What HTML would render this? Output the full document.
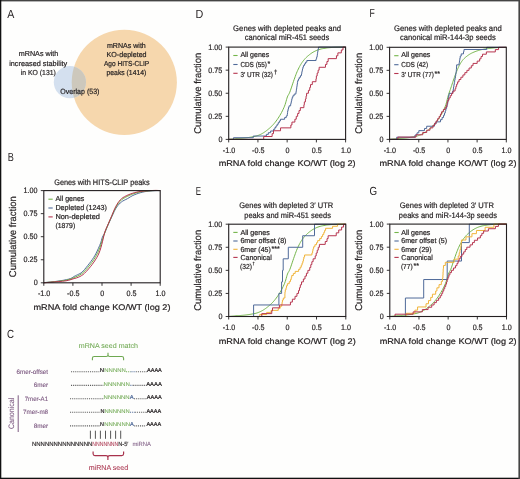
<!DOCTYPE html>
<html><head><meta charset="utf-8"><style>html,body{margin:0;padding:0;width:520px;height:479px;overflow:hidden;background:#fefefd;}</style></head>
<body>
<svg width="520" height="479" viewBox="0 0 520 479" style="position:absolute;left:0;top:0;font-family:'Liberation Sans', sans-serif;will-change:transform">
<style>text{stroke-width:0.2px;paint-order:stroke;text-rendering:geometricPrecision;}</style>
<rect x="0" y="0" width="520" height="479" fill="#fefefd"/>
<text x="7.20" y="17.70" font-size="11.8" fill="#231f20" stroke="#231f20" text-anchor="start" textLength="7.10" lengthAdjust="spacingAndGlyphs" style="stroke-width:0">A</text>
<text x="7.70" y="161.20" font-size="11.8" fill="#231f20" stroke="#231f20" text-anchor="start" textLength="6.10" lengthAdjust="spacingAndGlyphs" style="stroke-width:0">B</text>
<text x="7.00" y="338.20" font-size="11.8" fill="#231f20" stroke="#231f20" text-anchor="start" textLength="7.00" lengthAdjust="spacingAndGlyphs" style="stroke-width:0">C</text>
<text x="195.60" y="17.50" font-size="11.8" fill="#231f20" stroke="#231f20" text-anchor="start" textLength="7.80" lengthAdjust="spacingAndGlyphs" style="stroke-width:0">D</text>
<text x="195.80" y="194.70" font-size="11.8" fill="#231f20" stroke="#231f20" text-anchor="start" textLength="5.30" lengthAdjust="spacingAndGlyphs" style="stroke-width:0">E</text>
<text x="369.40" y="17.30" font-size="11.8" fill="#231f20" stroke="#231f20" text-anchor="start" textLength="5.30" lengthAdjust="spacingAndGlyphs" style="stroke-width:0">F</text>
<text x="369.60" y="194.60" font-size="11.8" fill="#231f20" stroke="#231f20" text-anchor="start" textLength="7.60" lengthAdjust="spacingAndGlyphs" style="stroke-width:0">G</text>
<defs><clipPath id="oc"><circle cx="124.3" cy="82.3" r="52.6"/></clipPath></defs>
<circle cx="124.3" cy="82.3" r="52.6" fill="#f6d7ad"/>
<circle cx="69.9" cy="82.2" r="16.1" fill="#d4e0ef"/>
<circle cx="69.9" cy="82.2" r="16.1" fill="#cdc8bc" clip-path="url(#oc)"/>
<text x="18.80" y="56.20" font-size="7.3" fill="#231f20" stroke="#231f20" text-anchor="start" textLength="39.40" lengthAdjust="spacingAndGlyphs">mRNAs with</text>
<text x="9.20" y="65.60" font-size="7.3" fill="#231f20" stroke="#231f20" text-anchor="start" textLength="58.00" lengthAdjust="spacingAndGlyphs">increased stability</text>
<text x="20.80" y="74.80" font-size="7.3" fill="#231f20" stroke="#231f20" text-anchor="start" textLength="35.00" lengthAdjust="spacingAndGlyphs">in KO (131)</text>
<text x="106.90" y="47.60" font-size="7.3" fill="#231f20" stroke="#231f20" text-anchor="start" textLength="38.90" lengthAdjust="spacingAndGlyphs">mRNAs with</text>
<text x="106.50" y="56.60" font-size="7.3" fill="#231f20" stroke="#231f20" text-anchor="start" textLength="40.10" lengthAdjust="spacingAndGlyphs">KO-depleted</text>
<text x="104.00" y="65.80" font-size="7.3" fill="#231f20" stroke="#231f20" text-anchor="start" textLength="45.20" lengthAdjust="spacingAndGlyphs">Ago HITS-CLIP</text>
<text x="106.50" y="74.80" font-size="7.3" fill="#231f20" stroke="#231f20" text-anchor="start" textLength="39.80" lengthAdjust="spacingAndGlyphs">peaks (1414)</text>
<text x="60.30" y="93.50" font-size="7.6" fill="#231f20" stroke="#231f20" text-anchor="start" textLength="39.10" lengthAdjust="spacingAndGlyphs">Overlap (53)</text>
<text x="54.20" y="185.00" font-size="8.0" fill="#231f20" stroke="#231f20" text-anchor="start" textLength="95.50" lengthAdjust="spacingAndGlyphs">Genes with HITS-CLIP peaks</text>
<path d="M43.80 282.60 L46.63 282.36 L50.64 282.00 L54.50 281.60 L57.79 281.17 L60.93 280.70 L63.80 280.20 L66.40 279.67 L68.74 279.11 L70.70 278.50 L72.12 277.81 L73.17 277.09 L74.20 276.40 L75.34 275.81 L76.46 275.26 L77.60 274.70 L78.76 274.17 L79.94 273.62 L81.10 272.90 L82.19 271.97 L83.27 270.87 L84.50 269.50 L85.97 267.77 L87.59 265.77 L89.20 263.70 L90.79 261.61 L92.36 259.45 L93.80 257.30 L95.02 255.26 L96.10 253.23 L97.20 251.00 L98.43 248.34 L99.66 245.49 L100.70 242.90 L101.37 240.78 L101.85 238.92 L102.40 237.20 L103.11 235.75 L103.89 234.44 L104.80 232.70 L105.88 230.20 L107.09 227.27 L108.30 224.40 L109.49 221.76 L110.70 219.17 L111.90 216.60 L113.10 213.92 L114.30 211.25 L115.50 208.90 L116.70 207.02 L117.90 205.46 L119.10 204.10 L120.26 202.94 L121.42 201.99 L122.70 201.10 L124.18 200.27 L125.79 199.51 L127.40 198.70 L128.95 197.75 L130.51 196.75 L132.20 195.80 L134.11 194.93 L136.16 194.12 L138.20 193.40 L140.17 192.78 L142.13 192.24 L144.10 191.80 L146.10 191.46 L148.10 191.21 L150.10 191.00 L152.14 190.82 L154.16 190.69 L156.00 190.60 L157.68 190.57 L159.17 190.59 L160.20 190.60" fill="none" stroke="#4f6a99" stroke-width="1.0" stroke-linejoin="round"/>
<path d="M43.80 282.70 L45.80 282.52 L47.80 282.34 L49.80 282.17 L51.80 281.99 L53.80 281.81 L55.80 281.59 L57.80 281.35 L59.80 281.10 L61.80 280.85 L63.80 280.61 L65.80 280.27 L67.80 279.77 L69.80 279.25 L71.80 278.54 L73.80 277.65 L75.80 276.82 L77.80 276.01 L79.80 274.98 L81.80 273.74 L83.80 272.00 L85.80 269.85 L87.80 267.59 L89.80 265.10 L91.80 262.49 L93.80 259.67 L95.80 256.30 L97.80 252.46 L99.80 247.96 L101.80 241.64 L103.80 235.74 L105.80 229.91 L107.80 225.17 L109.80 220.56 L111.80 215.99 L113.80 211.39 L115.80 207.23 L117.80 203.91 L119.80 201.53 L121.80 199.52 L123.80 198.26 L125.80 197.09 L127.80 196.15 L129.80 195.23 L131.80 194.30 L133.80 193.63 L135.80 193.02 L137.80 192.40 L139.80 192.00 L141.80 191.65 L143.80 191.29 L145.80 191.09 L147.80 190.92 L149.80 190.75 L151.80 190.65 L153.80 190.56 L155.80 190.47 L157.80 190.52 L159.80 190.59" fill="none" stroke="#74b54a" stroke-width="1.0" stroke-linejoin="round"/>
<path d="M43.80 282.80 L46.54 282.57 L50.47 282.25 L54.50 281.90 L58.47 281.58 L62.55 281.23 L66.10 280.80 L68.81 280.21 L71.00 279.54 L73.00 278.90 L74.87 278.39 L76.56 277.90 L78.20 277.30 L79.84 276.55 L81.43 275.68 L83.00 274.60 L84.54 273.25 L86.07 271.69 L87.60 270.00 L89.17 268.22 L90.74 266.32 L92.30 264.30 L93.86 262.12 L95.40 259.82 L96.80 257.50 L97.99 255.27 L99.03 253.01 L100.00 250.50 L100.93 247.56 L101.79 244.37 L102.60 241.20 L103.31 238.12 L103.99 235.07 L104.80 232.10 L105.87 229.28 L107.08 226.54 L108.30 223.80 L109.51 220.96 L110.74 218.11 L111.90 215.40 L112.94 212.87 L113.92 210.49 L114.90 208.30 L115.88 206.33 L116.86 204.55 L117.90 202.90 L119.01 201.36 L120.20 199.96 L121.50 198.70 L122.94 197.62 L124.50 196.68 L126.20 195.80 L128.10 194.93 L130.15 194.12 L132.20 193.40 L134.20 192.78 L136.21 192.24 L138.20 191.80 L140.17 191.46 L142.13 191.21 L144.10 191.00 L146.10 190.83 L148.10 190.70 L150.10 190.60 L152.14 190.50 L154.16 190.43 L156.00 190.40 L157.68 190.44 L159.17 190.53 L160.20 190.60" fill="none" stroke="#b6354f" stroke-width="1.0" stroke-linejoin="round"/>
<rect x="43.80" y="190.60" width="116.40" height="92.20" fill="none" stroke="#231f20" stroke-width="1.1"/>
<line x1="40.80" y1="282.80" x2="43.80" y2="282.80" stroke="#231f20" stroke-width="0.9"/>
<text x="37.70" y="285.40" font-size="7.9" fill="#231f20" stroke="#231f20" text-anchor="end" textLength="4.00" lengthAdjust="spacingAndGlyphs">0</text>
<line x1="40.80" y1="259.75" x2="43.80" y2="259.75" stroke="#231f20" stroke-width="0.9"/>
<text x="37.40" y="262.35" font-size="7.9" fill="#231f20" stroke="#231f20" text-anchor="end" textLength="13.99" lengthAdjust="spacingAndGlyphs">0.25</text>
<line x1="40.80" y1="236.70" x2="43.80" y2="236.70" stroke="#231f20" stroke-width="0.9"/>
<text x="37.40" y="239.30" font-size="7.9" fill="#231f20" stroke="#231f20" text-anchor="end" textLength="13.99" lengthAdjust="spacingAndGlyphs">0.50</text>
<line x1="40.80" y1="213.65" x2="43.80" y2="213.65" stroke="#231f20" stroke-width="0.9"/>
<text x="37.40" y="216.25" font-size="7.9" fill="#231f20" stroke="#231f20" text-anchor="end" textLength="13.99" lengthAdjust="spacingAndGlyphs">0.75</text>
<line x1="40.80" y1="190.60" x2="43.80" y2="190.60" stroke="#231f20" stroke-width="0.9"/>
<text x="37.40" y="193.20" font-size="7.9" fill="#231f20" stroke="#231f20" text-anchor="end" textLength="13.99" lengthAdjust="spacingAndGlyphs">1.00</text>
<line x1="43.80" y1="282.80" x2="43.80" y2="285.80" stroke="#231f20" stroke-width="0.9"/>
<text x="44.10" y="296.00" font-size="7.9" fill="#231f20" stroke="#231f20" text-anchor="middle" textLength="12.39" lengthAdjust="spacingAndGlyphs">-1.0</text>
<line x1="72.90" y1="282.80" x2="72.90" y2="285.80" stroke="#231f20" stroke-width="0.9"/>
<text x="73.20" y="296.00" font-size="7.9" fill="#231f20" stroke="#231f20" text-anchor="middle" textLength="12.39" lengthAdjust="spacingAndGlyphs">-0.5</text>
<line x1="102.00" y1="282.80" x2="102.00" y2="285.80" stroke="#231f20" stroke-width="0.9"/>
<text x="102.30" y="296.00" font-size="7.9" fill="#231f20" stroke="#231f20" text-anchor="middle" textLength="4.00" lengthAdjust="spacingAndGlyphs">0</text>
<line x1="131.10" y1="282.80" x2="131.10" y2="285.80" stroke="#231f20" stroke-width="0.9"/>
<text x="131.40" y="296.00" font-size="7.9" fill="#231f20" stroke="#231f20" text-anchor="middle" textLength="9.99" lengthAdjust="spacingAndGlyphs">0.5</text>
<line x1="160.20" y1="282.80" x2="160.20" y2="285.80" stroke="#231f20" stroke-width="0.9"/>
<text x="160.50" y="296.00" font-size="7.9" fill="#231f20" stroke="#231f20" text-anchor="middle" textLength="9.99" lengthAdjust="spacingAndGlyphs">1.0</text>
<text x="33.50" y="309.80" font-size="8.2" fill="#231f20" stroke="#231f20" text-anchor="start" textLength="137.00" lengthAdjust="spacingAndGlyphs">mRNA fold change KO/WT (log 2)</text>
<text x="0" y="0" font-size="9.8" fill="#231f20" stroke="#231f20" text-anchor="middle" textLength="81" lengthAdjust="spacingAndGlyphs" transform="translate(15.80,236.70) rotate(-90)">Cumulative fraction</text>
<line x1="48.40" y1="199.20" x2="52.70" y2="199.20" stroke="#74b54a" stroke-width="1.1"/>
<text x="55.40" y="200.80" font-size="7.3" fill="#231f20" stroke="#231f20" text-anchor="start" textLength="29.00" lengthAdjust="spacingAndGlyphs">All genes</text>
<line x1="48.40" y1="208.00" x2="52.70" y2="208.00" stroke="#4f6a99" stroke-width="1.1"/>
<text x="55.40" y="209.90" font-size="7.3" fill="#231f20" stroke="#231f20" text-anchor="start" textLength="51.50" lengthAdjust="spacingAndGlyphs">Depleted (1243)</text>
<line x1="48.40" y1="216.90" x2="52.70" y2="216.90" stroke="#b6354f" stroke-width="1.1"/>
<text x="55.40" y="218.90" font-size="7.3" fill="#231f20" stroke="#231f20" text-anchor="start" textLength="44.50" lengthAdjust="spacingAndGlyphs">Non-depleted</text>
<text x="55.40" y="227.80" font-size="7.3" fill="#231f20" stroke="#231f20" text-anchor="start" textLength="19.80" lengthAdjust="spacingAndGlyphs">(1879)</text>
<text x="233.10" y="30.80" font-size="8.0" fill="#231f20" stroke="#231f20" text-anchor="start" textLength="108.00" lengthAdjust="spacingAndGlyphs">Genes with depleted peaks and</text>
<text x="244.80" y="40.20" font-size="8.0" fill="#231f20" stroke="#231f20" text-anchor="start" textLength="84.40" lengthAdjust="spacingAndGlyphs">canonical miR-451 seeds</text>
<path d="M228.70 139.40 L229.09 139.36 L229.60 139.31 L230.23 139.25 L230.94 139.18 L231.75 139.11 L232.62 139.03 L233.61 138.95 L234.74 138.86 L235.95 138.77 L237.19 138.67 L238.39 138.57 L239.51 138.48 L240.54 138.39 L241.52 138.30 L242.48 138.22 L243.41 138.13 L244.35 138.03 L245.30 137.92 L246.26 137.81 L247.23 137.68 L248.20 137.55 L249.16 137.41 L250.13 137.26 L251.09 137.09 L252.04 136.93 L253.00 136.77 L253.95 136.60 L254.90 136.41 L255.86 136.18 L256.81 135.89 L257.78 135.56 L258.74 135.19 L259.70 134.78 L260.67 134.34 L261.64 133.85 L262.60 133.31 L263.57 132.72 L264.53 132.09 L265.49 131.42 L266.46 130.71 L267.42 129.95 L268.39 129.15 L269.35 128.33 L270.32 127.48 L271.28 126.59 L272.25 125.64 L273.21 124.62 L274.17 123.52 L275.15 122.33 L276.13 121.04 L277.11 119.69 L278.08 118.28 L279.01 116.85 L279.90 115.40 L280.76 113.93 L281.59 112.41 L282.39 110.86 L283.15 109.29 L283.86 107.72 L284.52 106.17 L285.10 104.58 L285.62 102.93 L286.09 101.27 L286.53 99.68 L286.95 98.22 L287.38 96.94 L287.79 95.97 L288.17 95.27 L288.53 94.69 L288.90 94.09 L289.31 93.32 L289.78 92.23 L290.33 90.76 L290.93 89.01 L291.58 87.09 L292.24 85.11 L292.89 83.16 L293.52 81.34 L294.12 79.64 L294.72 77.97 L295.30 76.32 L295.89 74.73 L296.48 73.20 L297.09 71.74 L297.70 70.36 L298.33 69.03 L298.96 67.76 L299.59 66.55 L300.21 65.42 L300.83 64.36 L301.43 63.39 L302.03 62.50 L302.62 61.68 L303.21 60.91 L303.80 60.18 L304.39 59.47 L304.98 58.79 L305.55 58.17 L306.12 57.59 L306.71 57.02 L307.34 56.45 L308.02 55.87 L308.75 55.26 L309.52 54.63 L310.33 54.01 L311.16 53.40 L312.03 52.82 L312.93 52.27 L313.84 51.76 L314.79 51.27 L315.76 50.80 L316.76 50.37 L317.80 49.96 L318.89 49.59 L320.03 49.26 L321.22 48.95 L322.46 48.68 L323.71 48.44 L324.96 48.22 L326.19 48.02 L327.43 47.86 L328.68 47.72 L329.93 47.61 L331.16 47.52 L332.36 47.45 L333.50 47.38 L334.58 47.32 L335.60 47.28 L336.59 47.25 L337.56 47.23 L338.53 47.21 L339.52 47.19 L340.60 47.17 L341.77 47.15 L342.94 47.13 L344.02 47.12 L344.94 47.11 L345.60 47.10" fill="none" stroke="#74b54a" stroke-width="1.0" stroke-linejoin="round"/>
<path d="M228.70 139.40 L233.47 139.40 L233.47 137.72 L253.26 137.72 L253.26 136.04 L266.35 136.04 L266.35 134.37 L268.35 134.37 L268.35 132.69 L270.62 132.69 L270.62 131.01 L273.47 131.01 L273.47 129.33 L274.83 129.33 L274.83 127.65 L275.98 127.65 L275.98 125.97 L277.12 125.97 L277.12 124.30 L278.26 124.30 L278.26 122.62 L279.37 122.62 L279.37 120.94 L280.47 120.94 L280.47 119.26 L284.61 119.26 L284.61 117.58 L286.26 117.58 L286.26 115.91 L287.24 115.91 L287.24 114.23 L287.46 114.23 L287.46 112.55 L287.67 112.55 L287.67 110.87 L288.05 110.87 L288.05 109.19 L288.45 109.19 L288.45 107.51 L289.04 107.51 L289.04 105.84 L290.64 105.84 L290.64 104.16 L290.99 104.16 L290.99 102.48 L291.36 102.48 L291.36 100.80 L291.76 100.80 L291.76 99.12 L292.16 99.12 L292.16 97.45 L292.87 97.45 L292.87 95.77 L294.14 95.77 L294.14 94.09 L295.88 94.09 L295.88 92.41 L296.17 92.41 L296.17 90.73 L296.43 90.73 L296.43 89.05 L296.68 89.05 L296.68 87.38 L296.93 87.38 L296.93 85.70 L297.18 85.70 L297.18 84.02 L297.42 84.02 L297.42 82.34 L297.67 82.34 L297.67 80.66 L298.44 80.66 L298.44 78.99 L299.28 78.99 L299.28 77.31 L300.48 77.31 L300.48 75.63 L301.48 75.63 L301.48 73.95 L301.76 73.95 L301.76 72.27 L302.07 72.27 L302.07 70.59 L302.48 70.59 L302.48 68.92 L302.89 68.92 L302.89 67.24 L303.44 67.24 L303.44 65.56 L304.45 65.56 L304.45 63.88 L305.57 63.88 L305.57 62.20 L306.83 62.20 L306.83 60.53 L316.04 60.53 L316.04 58.85 L316.60 58.85 L316.60 57.17 L317.12 57.17 L317.12 55.49 L317.36 55.49 L317.36 53.81 L317.60 53.81 L317.60 52.13 L317.86 52.13 L317.86 50.46 L318.14 50.46 L318.14 48.78 L318.48 48.78 L318.48 47.10 L345.60 47.10" fill="none" stroke="#4f6a99" stroke-width="1.0" stroke-linejoin="round"/>
<path d="M228.70 139.40 L263.71 139.40 L263.71 136.52 L272.14 136.52 L272.14 133.63 L273.50 133.63 L273.50 130.75 L280.54 130.75 L280.54 127.86 L290.86 127.86 L290.86 124.98 L291.94 124.98 L291.94 122.09 L294.88 122.09 L294.88 119.21 L296.25 119.21 L296.25 116.33 L297.65 116.33 L297.65 113.44 L299.00 113.44 L299.00 110.56 L300.33 110.56 L300.33 107.67 L303.90 107.67 L303.90 104.79 L304.33 104.79 L304.33 101.90 L305.41 101.90 L305.41 99.02 L306.05 99.02 L306.05 96.13 L306.58 96.13 L306.58 93.25 L308.42 93.25 L308.42 90.37 L309.72 90.37 L309.72 87.48 L310.49 87.48 L310.49 84.60 L312.32 84.60 L312.32 81.71 L315.96 81.71 L315.96 78.83 L316.37 78.83 L316.37 75.94 L317.17 75.94 L317.17 73.06 L318.12 73.06 L318.12 70.17 L319.13 70.17 L319.13 67.29 L325.48 67.29 L325.48 64.41 L326.92 64.41 L326.92 61.52 L328.17 61.52 L328.17 58.64 L336.45 58.64 L336.45 55.75 L337.89 55.75 L337.89 52.87 L341.33 52.87 L341.33 49.98 L342.99 49.98 L342.99 47.10 L345.60 47.10" fill="none" stroke="#b6354f" stroke-width="1.0" stroke-linejoin="round"/>
<rect x="228.70" y="47.10" width="116.90" height="92.30" fill="none" stroke="#231f20" stroke-width="1.1"/>
<line x1="225.70" y1="139.40" x2="228.70" y2="139.40" stroke="#231f20" stroke-width="0.9"/>
<text x="222.60" y="142.00" font-size="7.9" fill="#231f20" stroke="#231f20" text-anchor="end" textLength="4.00" lengthAdjust="spacingAndGlyphs">0</text>
<line x1="225.70" y1="116.33" x2="228.70" y2="116.33" stroke="#231f20" stroke-width="0.9"/>
<text x="222.30" y="118.92" font-size="7.9" fill="#231f20" stroke="#231f20" text-anchor="end" textLength="13.99" lengthAdjust="spacingAndGlyphs">0.25</text>
<line x1="225.70" y1="93.25" x2="228.70" y2="93.25" stroke="#231f20" stroke-width="0.9"/>
<text x="222.30" y="95.85" font-size="7.9" fill="#231f20" stroke="#231f20" text-anchor="end" textLength="13.99" lengthAdjust="spacingAndGlyphs">0.50</text>
<line x1="225.70" y1="70.17" x2="228.70" y2="70.17" stroke="#231f20" stroke-width="0.9"/>
<text x="222.30" y="72.77" font-size="7.9" fill="#231f20" stroke="#231f20" text-anchor="end" textLength="13.99" lengthAdjust="spacingAndGlyphs">0.75</text>
<line x1="225.70" y1="47.10" x2="228.70" y2="47.10" stroke="#231f20" stroke-width="0.9"/>
<text x="222.30" y="49.70" font-size="7.9" fill="#231f20" stroke="#231f20" text-anchor="end" textLength="13.99" lengthAdjust="spacingAndGlyphs">1.00</text>
<line x1="228.70" y1="139.40" x2="228.70" y2="142.40" stroke="#231f20" stroke-width="0.9"/>
<text x="229.00" y="152.60" font-size="7.9" fill="#231f20" stroke="#231f20" text-anchor="middle" textLength="12.39" lengthAdjust="spacingAndGlyphs">-1.0</text>
<line x1="257.93" y1="139.40" x2="257.93" y2="142.40" stroke="#231f20" stroke-width="0.9"/>
<text x="258.23" y="152.60" font-size="7.9" fill="#231f20" stroke="#231f20" text-anchor="middle" textLength="12.39" lengthAdjust="spacingAndGlyphs">-0.5</text>
<line x1="287.15" y1="139.40" x2="287.15" y2="142.40" stroke="#231f20" stroke-width="0.9"/>
<text x="287.45" y="152.60" font-size="7.9" fill="#231f20" stroke="#231f20" text-anchor="middle" textLength="4.00" lengthAdjust="spacingAndGlyphs">0</text>
<line x1="316.38" y1="139.40" x2="316.38" y2="142.40" stroke="#231f20" stroke-width="0.9"/>
<text x="316.68" y="152.60" font-size="7.9" fill="#231f20" stroke="#231f20" text-anchor="middle" textLength="9.99" lengthAdjust="spacingAndGlyphs">0.5</text>
<line x1="345.60" y1="139.40" x2="345.60" y2="142.40" stroke="#231f20" stroke-width="0.9"/>
<text x="345.90" y="152.60" font-size="7.9" fill="#231f20" stroke="#231f20" text-anchor="middle" textLength="9.99" lengthAdjust="spacingAndGlyphs">1.0</text>
<text x="218.65" y="166.40" font-size="8.2" fill="#231f20" stroke="#231f20" text-anchor="start" textLength="137.00" lengthAdjust="spacingAndGlyphs">mRNA fold change KO/WT (log 2)</text>
<text x="0" y="0" font-size="9.8" fill="#231f20" stroke="#231f20" text-anchor="middle" textLength="81" lengthAdjust="spacingAndGlyphs" transform="translate(200.70,93.25) rotate(-90)">Cumulative fraction</text>
<line x1="233.30" y1="55.50" x2="237.60" y2="55.50" stroke="#74b54a" stroke-width="1.1"/>
<text x="240.40" y="57.40" font-size="7.3" fill="#231f20" stroke="#231f20" text-anchor="start" textLength="28.80" lengthAdjust="spacingAndGlyphs">All genes</text>
<line x1="233.30" y1="64.50" x2="237.60" y2="64.50" stroke="#4f6a99" stroke-width="1.1"/>
<text x="240.40" y="66.60" font-size="7.3" fill="#231f20" stroke="#231f20" text-anchor="start" textLength="26.60" lengthAdjust="spacingAndGlyphs">CDS (55)</text>
<text x="267.50" y="66.30" font-size="7" fill="#231f20" stroke="#231f20" text-anchor="start">*</text>
<line x1="233.30" y1="73.30" x2="237.60" y2="73.30" stroke="#b6354f" stroke-width="1.1"/>
<text x="240.40" y="76.50" font-size="7.3" fill="#231f20" stroke="#231f20" text-anchor="start" textLength="32.60" lengthAdjust="spacingAndGlyphs">3′ UTR (32)</text>
<text x="273.90" y="74.10" font-size="6" fill="#231f20" stroke="#231f20" text-anchor="start">†</text>
<text x="394.00" y="30.80" font-size="8.0" fill="#231f20" stroke="#231f20" text-anchor="start" textLength="107.70" lengthAdjust="spacingAndGlyphs">Genes with depleted peaks and</text>
<text x="400.00" y="40.20" font-size="8.0" fill="#231f20" stroke="#231f20" text-anchor="start" textLength="95.80" lengthAdjust="spacingAndGlyphs">canonical miR-144-3p seeds</text>
<path d="M389.60 139.40 L389.99 139.36 L390.50 139.31 L391.12 139.25 L391.84 139.18 L392.64 139.11 L393.51 139.03 L394.50 138.95 L395.63 138.86 L396.84 138.77 L398.07 138.67 L399.28 138.57 L400.39 138.48 L401.42 138.39 L402.40 138.31 L403.35 138.22 L404.29 138.13 L405.22 138.03 L406.17 137.93 L407.13 137.81 L408.10 137.68 L409.06 137.55 L410.03 137.41 L410.99 137.26 L411.95 137.10 L412.90 136.94 L413.86 136.78 L414.81 136.61 L415.76 136.42 L416.71 136.18 L417.67 135.90 L418.63 135.57 L419.59 135.20 L420.55 134.80 L421.52 134.35 L422.48 133.86 L423.44 133.32 L424.41 132.74 L425.37 132.11 L426.33 131.44 L427.29 130.73 L428.26 129.97 L429.22 129.18 L430.18 128.35 L431.15 127.51 L432.11 126.62 L433.08 125.67 L434.04 124.66 L435.00 123.56 L435.97 122.36 L436.95 121.08 L437.93 119.73 L438.89 118.33 L439.83 116.90 L440.71 115.45 L441.57 113.99 L442.40 112.50 L443.20 110.98 L443.96 109.42 L444.67 107.85 L445.32 106.24 L445.89 104.58 L446.39 102.86 L446.83 101.10 L447.25 99.37 L447.66 97.69 L448.10 96.11 L448.56 94.66 L449.01 93.29 L449.46 91.98 L449.91 90.70 L450.36 89.42 L450.81 88.10 L451.26 86.75 L451.71 85.38 L452.15 84.01 L452.60 82.65 L453.05 81.30 L453.49 80.00 L453.94 78.71 L454.39 77.44 L454.84 76.19 L455.29 74.97 L455.73 73.78 L456.18 72.63 L456.62 71.51 L457.05 70.43 L457.49 69.38 L457.93 68.36 L458.36 67.39 L458.80 66.46 L459.25 65.57 L459.69 64.73 L460.14 63.92 L460.59 63.16 L461.04 62.44 L461.49 61.76 L461.92 61.14 L462.33 60.58 L462.74 60.07 L463.17 59.57 L463.64 59.07 L464.17 58.54 L464.78 57.97 L465.45 57.37 L466.16 56.77 L466.89 56.19 L467.62 55.63 L468.31 55.13 L468.97 54.68 L469.60 54.27 L470.22 53.90 L470.86 53.54 L471.54 53.19 L472.28 52.83 L473.10 52.45 L473.98 52.08 L474.91 51.71 L475.85 51.35 L476.79 51.02 L477.71 50.71 L478.59 50.43 L479.45 50.18 L480.31 49.94 L481.19 49.73 L482.11 49.52 L483.08 49.33 L484.12 49.14 L485.21 48.98 L486.35 48.83 L487.50 48.68 L488.65 48.54 L489.79 48.41 L490.87 48.27 L491.91 48.13 L492.95 48.00 L494.03 47.88 L495.20 47.77 L496.50 47.67 L498.07 47.58 L499.90 47.50 L501.82 47.44 L503.64 47.38 L505.20 47.34 L506.30 47.30" fill="none" stroke="#74b54a" stroke-width="1.0" stroke-linejoin="round"/>
<path d="M389.60 139.40 L396.67 139.40 L396.67 137.21 L414.99 137.21 L414.99 135.01 L417.01 135.01 L417.01 132.82 L418.83 132.82 L418.83 130.63 L424.47 130.63 L424.47 128.44 L426.66 128.44 L426.66 126.24 L434.38 126.24 L434.38 124.05 L435.99 124.05 L435.99 121.86 L440.49 121.86 L440.49 119.66 L442.12 119.66 L442.12 117.47 L443.53 117.47 L443.53 115.28 L444.51 115.28 L444.51 113.09 L445.24 113.09 L445.24 110.89 L445.84 110.89 L445.84 108.70 L446.60 108.70 L446.60 106.51 L447.15 106.51 L447.15 104.31 L447.68 104.31 L447.68 102.12 L448.02 102.12 L448.02 99.93 L448.30 99.93 L448.30 97.74 L448.64 97.74 L448.64 95.54 L449.11 95.54 L449.11 93.35 L452.55 93.35 L452.55 91.16 L453.27 91.16 L453.27 88.96 L453.56 88.96 L453.56 86.77 L453.90 86.77 L453.90 84.58 L454.30 84.58 L454.30 82.39 L454.65 82.39 L454.65 80.19 L454.99 80.19 L454.99 78.00 L455.38 78.00 L455.38 75.81 L455.76 75.81 L455.76 73.61 L456.10 73.61 L456.10 71.42 L456.35 71.42 L456.35 69.23 L456.49 69.23 L456.49 67.04 L456.62 67.04 L456.62 64.84 L459.11 64.84 L459.11 62.65 L459.46 62.65 L459.46 60.46 L459.84 60.46 L459.84 58.26 L460.23 58.26 L460.23 56.07 L461.21 56.07 L461.21 53.88 L463.50 53.88 L463.50 51.69 L463.98 51.69 L463.98 49.49 L486.70 49.49 L486.70 47.30 L506.30 47.30" fill="none" stroke="#4f6a99" stroke-width="1.0" stroke-linejoin="round"/>
<path d="M389.60 139.40 L397.83 139.40 L397.83 137.10 L416.01 137.10 L416.01 134.80 L422.73 134.80 L422.73 132.49 L426.71 132.49 L426.71 130.19 L429.99 130.19 L429.99 127.89 L432.92 127.89 L432.92 125.59 L434.54 125.59 L434.54 123.28 L436.10 123.28 L436.10 120.98 L437.61 120.98 L437.61 118.68 L439.13 118.68 L439.13 116.38 L440.44 116.38 L440.44 114.07 L441.59 114.07 L441.59 111.77 L443.38 111.77 L443.38 109.47 L445.27 109.47 L445.27 107.17 L446.73 107.17 L446.73 104.86 L447.04 104.86 L447.04 102.56 L447.76 102.56 L447.76 100.26 L448.94 100.26 L448.94 97.95 L450.23 97.95 L450.23 95.65 L451.60 95.65 L451.60 93.35 L453.04 93.35 L453.04 91.05 L455.07 91.05 L455.07 88.75 L455.85 88.75 L455.85 86.44 L456.63 86.44 L456.63 84.14 L457.61 84.14 L457.61 81.84 L459.00 81.84 L459.00 79.53 L460.89 79.53 L460.89 77.23 L462.91 77.23 L462.91 74.93 L464.85 74.93 L464.85 72.63 L466.92 72.63 L466.92 70.32 L469.06 70.32 L469.06 68.02 L471.29 68.02 L471.29 65.72 L473.02 65.72 L473.02 63.42 L477.18 63.42 L477.18 61.12 L479.65 61.12 L479.65 58.81 L481.04 58.81 L481.04 56.51 L482.48 56.51 L482.48 54.21 L486.37 54.21 L486.37 51.91 L495.32 51.91 L495.32 49.60 L498.56 49.60 L498.56 47.30 L506.30 47.30" fill="none" stroke="#b6354f" stroke-width="1.0" stroke-linejoin="round"/>
<rect x="389.60" y="47.30" width="116.70" height="92.10" fill="none" stroke="#231f20" stroke-width="1.1"/>
<line x1="386.60" y1="139.40" x2="389.60" y2="139.40" stroke="#231f20" stroke-width="0.9"/>
<text x="383.50" y="142.00" font-size="7.9" fill="#231f20" stroke="#231f20" text-anchor="end" textLength="4.00" lengthAdjust="spacingAndGlyphs">0</text>
<line x1="386.60" y1="116.38" x2="389.60" y2="116.38" stroke="#231f20" stroke-width="0.9"/>
<text x="383.20" y="118.97" font-size="7.9" fill="#231f20" stroke="#231f20" text-anchor="end" textLength="13.99" lengthAdjust="spacingAndGlyphs">0.25</text>
<line x1="386.60" y1="93.35" x2="389.60" y2="93.35" stroke="#231f20" stroke-width="0.9"/>
<text x="383.20" y="95.95" font-size="7.9" fill="#231f20" stroke="#231f20" text-anchor="end" textLength="13.99" lengthAdjust="spacingAndGlyphs">0.50</text>
<line x1="386.60" y1="70.33" x2="389.60" y2="70.33" stroke="#231f20" stroke-width="0.9"/>
<text x="383.20" y="72.92" font-size="7.9" fill="#231f20" stroke="#231f20" text-anchor="end" textLength="13.99" lengthAdjust="spacingAndGlyphs">0.75</text>
<line x1="386.60" y1="47.30" x2="389.60" y2="47.30" stroke="#231f20" stroke-width="0.9"/>
<text x="383.20" y="49.90" font-size="7.9" fill="#231f20" stroke="#231f20" text-anchor="end" textLength="13.99" lengthAdjust="spacingAndGlyphs">1.00</text>
<line x1="389.60" y1="139.40" x2="389.60" y2="142.40" stroke="#231f20" stroke-width="0.9"/>
<text x="389.90" y="152.60" font-size="7.9" fill="#231f20" stroke="#231f20" text-anchor="middle" textLength="12.39" lengthAdjust="spacingAndGlyphs">-1.0</text>
<line x1="418.78" y1="139.40" x2="418.78" y2="142.40" stroke="#231f20" stroke-width="0.9"/>
<text x="419.08" y="152.60" font-size="7.9" fill="#231f20" stroke="#231f20" text-anchor="middle" textLength="12.39" lengthAdjust="spacingAndGlyphs">-0.5</text>
<line x1="447.95" y1="139.40" x2="447.95" y2="142.40" stroke="#231f20" stroke-width="0.9"/>
<text x="448.25" y="152.60" font-size="7.9" fill="#231f20" stroke="#231f20" text-anchor="middle" textLength="4.00" lengthAdjust="spacingAndGlyphs">0</text>
<line x1="477.12" y1="139.40" x2="477.12" y2="142.40" stroke="#231f20" stroke-width="0.9"/>
<text x="477.43" y="152.60" font-size="7.9" fill="#231f20" stroke="#231f20" text-anchor="middle" textLength="9.99" lengthAdjust="spacingAndGlyphs">0.5</text>
<line x1="506.30" y1="139.40" x2="506.30" y2="142.40" stroke="#231f20" stroke-width="0.9"/>
<text x="506.60" y="152.60" font-size="7.9" fill="#231f20" stroke="#231f20" text-anchor="middle" textLength="9.99" lengthAdjust="spacingAndGlyphs">1.0</text>
<text x="379.45" y="166.40" font-size="8.2" fill="#231f20" stroke="#231f20" text-anchor="start" textLength="137.00" lengthAdjust="spacingAndGlyphs">mRNA fold change KO/WT (log 2)</text>
<text x="0" y="0" font-size="9.8" fill="#231f20" stroke="#231f20" text-anchor="middle" textLength="81" lengthAdjust="spacingAndGlyphs" transform="translate(361.60,93.35) rotate(-90)">Cumulative fraction</text>
<line x1="394.20" y1="55.70" x2="398.50" y2="55.70" stroke="#74b54a" stroke-width="1.1"/>
<text x="401.30" y="57.40" font-size="7.3" fill="#231f20" stroke="#231f20" text-anchor="start" textLength="29.10" lengthAdjust="spacingAndGlyphs">All genes</text>
<line x1="394.20" y1="64.70" x2="398.50" y2="64.70" stroke="#4f6a99" stroke-width="1.1"/>
<text x="401.30" y="66.60" font-size="7.3" fill="#231f20" stroke="#231f20" text-anchor="start" textLength="26.80" lengthAdjust="spacingAndGlyphs">CDS (42)</text>
<line x1="394.20" y1="73.50" x2="398.50" y2="73.50" stroke="#b6354f" stroke-width="1.1"/>
<text x="401.30" y="76.60" font-size="7.3" fill="#231f20" stroke="#231f20" text-anchor="start" textLength="32.50" lengthAdjust="spacingAndGlyphs">3′ UTR (77)</text>
<text x="434.60" y="76.20" font-size="7" fill="#231f20" stroke="#231f20" text-anchor="start">**</text>
<text x="239.20" y="208.00" font-size="8.0" fill="#231f20" stroke="#231f20" text-anchor="start" textLength="94.00" lengthAdjust="spacingAndGlyphs">Genes with depleted 3′ UTR</text>
<text x="244.30" y="217.60" font-size="8.0" fill="#231f20" stroke="#231f20" text-anchor="start" textLength="86.60" lengthAdjust="spacingAndGlyphs">peaks and miR-451 seeds</text>
<path d="M228.70 316.50 L229.09 316.46 L229.61 316.41 L230.23 316.35 L230.95 316.28 L231.75 316.21 L232.62 316.13 L233.61 316.05 L234.75 315.96 L235.96 315.87 L237.20 315.77 L238.41 315.67 L239.53 315.58 L240.56 315.49 L241.55 315.40 L242.50 315.32 L243.44 315.23 L244.38 315.13 L245.33 315.02 L246.29 314.91 L247.26 314.78 L248.23 314.65 L249.20 314.51 L250.16 314.36 L251.12 314.19 L252.08 314.03 L253.04 313.87 L253.99 313.70 L254.95 313.51 L255.90 313.28 L256.86 312.99 L257.83 312.66 L258.79 312.29 L259.76 311.88 L260.72 311.44 L261.69 310.95 L262.66 310.41 L263.63 309.82 L264.59 309.19 L265.56 308.52 L266.52 307.81 L267.49 307.05 L268.46 306.25 L269.42 305.43 L270.39 304.58 L271.36 303.69 L272.32 302.74 L273.29 301.72 L274.25 300.62 L275.22 299.43 L276.21 298.14 L277.19 296.79 L278.16 295.38 L279.10 293.95 L279.99 292.50 L280.85 291.03 L281.68 289.51 L282.48 287.96 L283.24 286.39 L283.96 284.82 L284.62 283.27 L285.20 281.68 L285.72 280.03 L286.19 278.37 L286.63 276.78 L287.05 275.32 L287.48 274.04 L287.90 273.07 L288.27 272.37 L288.63 271.79 L289.00 271.19 L289.41 270.42 L289.88 269.33 L290.43 267.86 L291.04 266.11 L291.69 264.19 L292.35 262.21 L293.00 260.26 L293.63 258.44 L294.24 256.74 L294.83 255.07 L295.42 253.42 L296.01 251.83 L296.60 250.30 L297.20 248.84 L297.82 247.46 L298.45 246.13 L299.08 244.86 L299.71 243.65 L300.33 242.52 L300.95 241.46 L301.56 240.49 L302.15 239.60 L302.74 238.78 L303.33 238.01 L303.93 237.28 L304.52 236.57 L305.11 235.89 L305.68 235.27 L306.25 234.69 L306.84 234.12 L307.47 233.55 L308.15 232.97 L308.89 232.36 L309.66 231.73 L310.47 231.11 L311.31 230.50 L312.17 229.92 L313.07 229.37 L313.99 228.86 L314.93 228.37 L315.91 227.90 L316.91 227.47 L317.96 227.06 L319.04 226.69 L320.18 226.36 L321.38 226.05 L322.62 225.78 L323.87 225.54 L325.13 225.32 L326.36 225.12 L327.60 224.96 L328.85 224.82 L330.10 224.71 L331.34 224.62 L332.53 224.55 L333.68 224.48 L334.76 224.42 L335.78 224.38 L336.77 224.35 L337.74 224.33 L338.72 224.31 L339.71 224.29 L340.79 224.27 L341.96 224.25 L343.13 224.23 L344.22 224.22 L345.14 224.21 L345.80 224.20" fill="none" stroke="#74b54a" stroke-width="1.0" stroke-linejoin="round"/>
<path d="M228.70 316.50 L253.60 316.50 L253.60 304.96 L278.90 304.96 L278.90 293.43 L281.60 293.43 L281.60 281.89 L282.50 281.89 L282.50 270.35 L283.20 270.35 L283.20 258.81 L288.30 258.81 L288.30 247.27 L302.70 247.27 L302.70 235.74 L314.50 235.74 L314.50 224.20 L345.80 224.20" fill="none" stroke="#4f6a99" stroke-width="1.0" stroke-linejoin="round"/>
<path d="M228.70 316.50 L259.77 316.50 L259.77 314.45 L266.67 314.45 L266.67 312.40 L271.08 312.40 L271.08 310.35 L278.28 310.35 L278.28 308.30 L280.18 308.30 L280.18 306.24 L281.78 306.24 L281.78 304.19 L282.10 304.19 L282.10 302.14 L282.42 302.14 L282.42 300.09 L283.31 300.09 L283.31 298.04 L284.90 298.04 L284.90 295.99 L284.90 295.99 L284.90 293.94 L284.98 293.94 L284.98 291.89 L285.28 291.89 L285.28 289.84 L286.03 289.84 L286.03 287.78 L286.53 287.78 L286.53 285.73 L287.38 285.73 L287.38 283.68 L289.24 283.68 L289.24 281.63 L290.48 281.63 L290.48 279.58 L291.24 279.58 L291.24 277.53 L291.72 277.53 L291.72 275.48 L293.34 275.48 L293.34 273.43 L295.20 273.43 L295.20 271.38 L298.64 271.38 L298.64 269.32 L300.09 269.32 L300.09 267.27 L301.24 267.27 L301.24 265.22 L302.07 265.22 L302.07 263.17 L302.83 263.17 L302.83 261.12 L303.40 261.12 L303.40 259.07 L303.87 259.07 L303.87 257.02 L304.58 257.02 L304.58 254.97 L311.93 254.97 L311.93 252.92 L312.63 252.92 L312.63 250.86 L312.98 250.86 L312.98 248.81 L313.60 248.81 L313.60 246.76 L314.89 246.76 L314.89 244.71 L316.54 244.71 L316.54 242.66 L317.67 242.66 L317.67 240.61 L319.72 240.61 L319.72 238.56 L321.39 238.56 L321.39 236.51 L322.65 236.51 L322.65 234.46 L323.79 234.46 L323.79 232.40 L324.64 232.40 L324.64 230.35 L325.60 230.35 L325.60 228.30 L332.62 228.30 L332.62 226.25 L337.57 226.25 L337.57 224.20 L345.80 224.20" fill="none" stroke="#f0b43a" stroke-width="1.0" stroke-linejoin="round"/>
<path d="M228.70 316.50 L261.77 316.50 L261.77 313.62 L271.76 313.62 L271.76 310.73 L272.50 310.73 L272.50 307.85 L279.40 307.85 L279.40 304.96 L290.43 304.96 L290.43 302.08 L292.36 302.08 L292.36 299.19 L295.03 299.19 L295.03 296.31 L296.94 296.31 L296.94 293.43 L298.54 293.43 L298.54 290.54 L299.47 290.54 L299.47 287.66 L300.34 287.66 L300.34 284.77 L301.54 284.77 L301.54 281.89 L303.37 281.89 L303.37 279.00 L304.99 279.00 L304.99 276.12 L306.43 276.12 L306.43 273.23 L307.88 273.23 L307.88 270.35 L309.74 270.35 L309.74 267.47 L310.81 267.47 L310.81 264.58 L311.85 264.58 L311.85 261.70 L313.14 261.70 L313.14 258.81 L315.19 258.81 L315.19 255.93 L316.19 255.93 L316.19 253.04 L317.23 253.04 L317.23 250.16 L318.24 250.16 L318.24 247.27 L319.40 247.27 L319.40 244.39 L325.24 244.39 L325.24 241.51 L327.02 241.51 L327.02 238.62 L328.12 238.62 L328.12 235.74 L336.24 235.74 L336.24 232.85 L338.73 232.85 L338.73 229.97 L341.62 229.97 L341.62 227.08 L343.56 227.08 L343.56 224.20 L345.80 224.20" fill="none" stroke="#b6354f" stroke-width="1.0" stroke-linejoin="round"/>
<rect x="228.70" y="224.20" width="117.10" height="92.30" fill="none" stroke="#231f20" stroke-width="1.1"/>
<line x1="225.70" y1="316.50" x2="228.70" y2="316.50" stroke="#231f20" stroke-width="0.9"/>
<text x="222.60" y="319.10" font-size="7.9" fill="#231f20" stroke="#231f20" text-anchor="end" textLength="4.00" lengthAdjust="spacingAndGlyphs">0</text>
<line x1="225.70" y1="293.43" x2="228.70" y2="293.43" stroke="#231f20" stroke-width="0.9"/>
<text x="222.30" y="296.03" font-size="7.9" fill="#231f20" stroke="#231f20" text-anchor="end" textLength="13.99" lengthAdjust="spacingAndGlyphs">0.25</text>
<line x1="225.70" y1="270.35" x2="228.70" y2="270.35" stroke="#231f20" stroke-width="0.9"/>
<text x="222.30" y="272.95" font-size="7.9" fill="#231f20" stroke="#231f20" text-anchor="end" textLength="13.99" lengthAdjust="spacingAndGlyphs">0.50</text>
<line x1="225.70" y1="247.27" x2="228.70" y2="247.27" stroke="#231f20" stroke-width="0.9"/>
<text x="222.30" y="249.87" font-size="7.9" fill="#231f20" stroke="#231f20" text-anchor="end" textLength="13.99" lengthAdjust="spacingAndGlyphs">0.75</text>
<line x1="225.70" y1="224.20" x2="228.70" y2="224.20" stroke="#231f20" stroke-width="0.9"/>
<text x="222.30" y="226.80" font-size="7.9" fill="#231f20" stroke="#231f20" text-anchor="end" textLength="13.99" lengthAdjust="spacingAndGlyphs">1.00</text>
<line x1="228.70" y1="316.50" x2="228.70" y2="319.50" stroke="#231f20" stroke-width="0.9"/>
<text x="229.00" y="329.70" font-size="7.9" fill="#231f20" stroke="#231f20" text-anchor="middle" textLength="12.39" lengthAdjust="spacingAndGlyphs">-1.0</text>
<line x1="257.98" y1="316.50" x2="257.98" y2="319.50" stroke="#231f20" stroke-width="0.9"/>
<text x="258.28" y="329.70" font-size="7.9" fill="#231f20" stroke="#231f20" text-anchor="middle" textLength="12.39" lengthAdjust="spacingAndGlyphs">-0.5</text>
<line x1="287.25" y1="316.50" x2="287.25" y2="319.50" stroke="#231f20" stroke-width="0.9"/>
<text x="287.55" y="329.70" font-size="7.9" fill="#231f20" stroke="#231f20" text-anchor="middle" textLength="4.00" lengthAdjust="spacingAndGlyphs">0</text>
<line x1="316.52" y1="316.50" x2="316.52" y2="319.50" stroke="#231f20" stroke-width="0.9"/>
<text x="316.82" y="329.70" font-size="7.9" fill="#231f20" stroke="#231f20" text-anchor="middle" textLength="9.99" lengthAdjust="spacingAndGlyphs">0.5</text>
<line x1="345.80" y1="316.50" x2="345.80" y2="319.50" stroke="#231f20" stroke-width="0.9"/>
<text x="346.10" y="329.70" font-size="7.9" fill="#231f20" stroke="#231f20" text-anchor="middle" textLength="9.99" lengthAdjust="spacingAndGlyphs">1.0</text>
<text x="218.75" y="343.50" font-size="8.2" fill="#231f20" stroke="#231f20" text-anchor="start" textLength="137.00" lengthAdjust="spacingAndGlyphs">mRNA fold change KO/WT (log 2)</text>
<text x="0" y="0" font-size="9.8" fill="#231f20" stroke="#231f20" text-anchor="middle" textLength="81" lengthAdjust="spacingAndGlyphs" transform="translate(200.70,270.35) rotate(-90)">Cumulative fraction</text>
<line x1="233.30" y1="232.40" x2="237.60" y2="232.40" stroke="#74b54a" stroke-width="1.1"/>
<text x="240.40" y="235.00" font-size="7.3" fill="#231f20" stroke="#231f20" text-anchor="start" textLength="29.40" lengthAdjust="spacingAndGlyphs">All genes</text>
<line x1="233.30" y1="241.00" x2="237.60" y2="241.00" stroke="#4f6a99" stroke-width="1.1"/>
<text x="240.40" y="243.30" font-size="7.3" fill="#231f20" stroke="#231f20" text-anchor="start" textLength="46.10" lengthAdjust="spacingAndGlyphs">6mer offset (8)</text>
<line x1="233.30" y1="249.30" x2="237.60" y2="249.30" stroke="#f0b43a" stroke-width="1.1"/>
<text x="240.40" y="251.80" font-size="7.3" fill="#231f20" stroke="#231f20" text-anchor="start" textLength="30.40" lengthAdjust="spacingAndGlyphs">6mer (45)</text>
<text x="271.50" y="251.20" font-size="7" fill="#231f20" stroke="#231f20" text-anchor="start">***</text>
<line x1="233.30" y1="257.40" x2="237.60" y2="257.40" stroke="#b6354f" stroke-width="1.1"/>
<text x="240.40" y="259.80" font-size="7.3" fill="#231f20" stroke="#231f20" text-anchor="start" textLength="31.40" lengthAdjust="spacingAndGlyphs">Canonical</text>
<text x="240.10" y="268.80" font-size="7.3" fill="#231f20" stroke="#231f20" text-anchor="start" textLength="12.00" lengthAdjust="spacingAndGlyphs">(32)</text>
<text x="252.60" y="265.40" font-size="4.2" fill="#231f20" stroke="#231f20" text-anchor="start">†</text>
<text x="399.70" y="208.00" font-size="8.0" fill="#231f20" stroke="#231f20" text-anchor="start" textLength="94.20" lengthAdjust="spacingAndGlyphs">Genes with depleted 3′ UTR</text>
<text x="398.80" y="217.60" font-size="8.0" fill="#231f20" stroke="#231f20" text-anchor="start" textLength="98.10" lengthAdjust="spacingAndGlyphs">peaks and miR-144-3p seeds</text>
<path d="M389.80 316.50 L390.19 316.46 L390.70 316.41 L391.32 316.35 L392.04 316.28 L392.84 316.21 L393.71 316.13 L394.70 316.05 L395.83 315.96 L397.04 315.86 L398.27 315.77 L399.48 315.67 L400.59 315.58 L401.62 315.49 L402.60 315.40 L403.55 315.32 L404.49 315.23 L405.42 315.13 L406.37 315.02 L407.33 314.90 L408.30 314.78 L409.26 314.65 L410.23 314.50 L411.19 314.35 L412.15 314.19 L413.10 314.03 L414.06 313.87 L415.01 313.70 L415.96 313.51 L416.91 313.27 L417.87 312.99 L418.83 312.66 L419.79 312.29 L420.75 311.88 L421.72 311.43 L422.68 310.94 L423.64 310.40 L424.61 309.82 L425.57 309.19 L426.53 308.51 L427.49 307.80 L428.46 307.04 L429.42 306.24 L430.38 305.42 L431.35 304.57 L432.31 303.67 L433.28 302.73 L434.24 301.71 L435.20 300.61 L436.17 299.41 L437.15 298.12 L438.13 296.77 L439.09 295.36 L440.03 293.92 L440.91 292.48 L441.77 291.00 L442.60 289.48 L443.40 287.93 L444.16 286.36 L444.87 284.79 L445.52 283.24 L446.11 281.64 L446.62 279.99 L447.09 278.33 L447.53 276.74 L447.95 275.27 L448.38 274.00 L448.79 273.02 L449.17 272.32 L449.52 271.74 L449.90 271.15 L450.30 270.37 L450.78 269.28 L451.32 267.81 L451.93 266.06 L452.57 264.14 L453.23 262.15 L453.88 260.19 L454.51 258.38 L455.11 256.68 L455.70 255.00 L456.29 253.36 L456.88 251.76 L457.47 250.23 L458.07 248.77 L458.68 247.38 L459.31 246.05 L459.94 244.78 L460.57 243.58 L461.19 242.44 L461.80 241.38 L462.41 240.40 L463.00 239.51 L463.59 238.69 L464.18 237.93 L464.77 237.19 L465.36 236.48 L465.95 235.81 L466.52 235.18 L467.09 234.60 L467.68 234.03 L468.30 233.46 L468.98 232.88 L469.71 232.27 L470.48 231.64 L471.29 231.02 L472.12 230.41 L472.99 229.82 L473.88 229.27 L474.80 228.76 L475.74 228.27 L476.71 227.81 L477.71 227.37 L478.75 226.97 L479.83 226.59 L480.97 226.26 L482.17 225.95 L483.40 225.68 L484.65 225.44 L485.90 225.22 L487.13 225.02 L488.36 224.86 L489.61 224.72 L490.85 224.61 L492.09 224.52 L493.28 224.45 L494.42 224.38 L495.50 224.32 L496.52 224.28 L497.50 224.25 L498.47 224.23 L499.44 224.21 L500.43 224.19 L501.51 224.17 L502.67 224.15 L503.84 224.13 L504.92 224.12 L505.84 224.11 L506.50 224.10" fill="none" stroke="#74b54a" stroke-width="1.0" stroke-linejoin="round"/>
<path d="M389.80 316.50 L405.40 316.50 L405.40 298.02 L423.70 298.02 L423.70 279.54 L447.20 279.54 L447.20 261.06 L461.50 261.06 L461.50 242.58 L469.30 242.58 L469.30 224.10 L506.50 224.10" fill="none" stroke="#4f6a99" stroke-width="1.0" stroke-linejoin="round"/>
<path d="M389.80 316.50 L406.21 316.50 L406.21 313.31 L414.90 313.31 L414.90 310.13 L417.58 310.13 L417.58 306.94 L426.04 306.94 L426.04 303.76 L428.49 303.76 L428.49 300.57 L430.71 300.57 L430.71 297.38 L432.43 297.38 L432.43 294.20 L435.67 294.20 L435.67 291.01 L436.92 291.01 L436.92 287.82 L439.03 287.82 L439.03 284.64 L441.34 284.64 L441.34 281.45 L442.46 281.45 L442.46 278.27 L442.90 278.27 L442.90 275.08 L443.04 275.08 L443.04 271.89 L443.19 271.89 L443.19 268.71 L443.46 268.71 L443.46 265.52 L445.31 265.52 L445.31 262.33 L454.12 262.33 L454.12 259.15 L458.20 259.15 L458.20 255.96 L459.21 255.96 L459.21 252.78 L459.97 252.78 L459.97 249.59 L460.80 249.59 L460.80 246.40 L461.15 246.40 L461.15 243.22 L461.43 243.22 L461.43 240.03 L465.96 240.03 L465.96 236.84 L471.95 236.84 L471.95 233.66 L476.43 233.66 L476.43 230.47 L485.11 230.47 L485.11 227.29 L493.91 227.29 L493.91 224.10 L506.50 224.10" fill="none" stroke="#f0b43a" stroke-width="1.0" stroke-linejoin="round"/>
<path d="M389.80 316.50 L395.04 316.50 L395.04 314.19 L413.14 314.19 L413.14 311.88 L422.31 311.88 L422.31 309.57 L428.07 309.57 L428.07 307.26 L431.72 307.26 L431.72 304.95 L434.09 304.95 L434.09 302.64 L436.38 302.64 L436.38 300.33 L438.63 300.33 L438.63 298.02 L440.24 298.02 L440.24 295.71 L441.70 295.71 L441.70 293.40 L442.72 293.40 L442.72 291.09 L443.74 291.09 L443.74 288.78 L444.74 288.78 L444.74 286.47 L445.73 286.47 L445.73 284.16 L446.54 284.16 L446.54 281.85 L447.20 281.85 L447.20 279.54 L447.99 279.54 L447.99 277.23 L448.83 277.23 L448.83 274.92 L449.90 274.92 L449.90 272.61 L451.46 272.61 L451.46 270.30 L453.46 270.30 L453.46 267.99 L455.44 267.99 L455.44 265.68 L456.96 265.68 L456.96 263.37 L458.08 263.37 L458.08 261.06 L459.06 261.06 L459.06 258.75 L460.28 258.75 L460.28 256.44 L461.99 256.44 L461.99 254.13 L463.70 254.13 L463.70 251.82 L465.28 251.82 L465.28 249.51 L466.80 249.51 L466.80 247.20 L470.05 247.20 L470.05 244.89 L472.46 244.89 L472.46 242.58 L474.38 242.58 L474.38 240.27 L477.59 240.27 L477.59 237.96 L480.33 237.96 L480.33 235.65 L481.83 235.65 L481.83 233.34 L483.62 233.34 L483.62 231.03 L488.37 231.03 L488.37 228.72 L495.41 228.72 L495.41 226.41 L498.41 226.41 L498.41 224.10 L506.50 224.10" fill="none" stroke="#b6354f" stroke-width="1.0" stroke-linejoin="round"/>
<rect x="389.80" y="224.10" width="116.70" height="92.40" fill="none" stroke="#231f20" stroke-width="1.1"/>
<line x1="386.80" y1="316.50" x2="389.80" y2="316.50" stroke="#231f20" stroke-width="0.9"/>
<text x="383.70" y="319.10" font-size="7.9" fill="#231f20" stroke="#231f20" text-anchor="end" textLength="4.00" lengthAdjust="spacingAndGlyphs">0</text>
<line x1="386.80" y1="293.40" x2="389.80" y2="293.40" stroke="#231f20" stroke-width="0.9"/>
<text x="383.40" y="296.00" font-size="7.9" fill="#231f20" stroke="#231f20" text-anchor="end" textLength="13.99" lengthAdjust="spacingAndGlyphs">0.25</text>
<line x1="386.80" y1="270.30" x2="389.80" y2="270.30" stroke="#231f20" stroke-width="0.9"/>
<text x="383.40" y="272.90" font-size="7.9" fill="#231f20" stroke="#231f20" text-anchor="end" textLength="13.99" lengthAdjust="spacingAndGlyphs">0.50</text>
<line x1="386.80" y1="247.20" x2="389.80" y2="247.20" stroke="#231f20" stroke-width="0.9"/>
<text x="383.40" y="249.80" font-size="7.9" fill="#231f20" stroke="#231f20" text-anchor="end" textLength="13.99" lengthAdjust="spacingAndGlyphs">0.75</text>
<line x1="386.80" y1="224.10" x2="389.80" y2="224.10" stroke="#231f20" stroke-width="0.9"/>
<text x="383.40" y="226.70" font-size="7.9" fill="#231f20" stroke="#231f20" text-anchor="end" textLength="13.99" lengthAdjust="spacingAndGlyphs">1.00</text>
<line x1="389.80" y1="316.50" x2="389.80" y2="319.50" stroke="#231f20" stroke-width="0.9"/>
<text x="390.10" y="329.70" font-size="7.9" fill="#231f20" stroke="#231f20" text-anchor="middle" textLength="12.39" lengthAdjust="spacingAndGlyphs">-1.0</text>
<line x1="418.98" y1="316.50" x2="418.98" y2="319.50" stroke="#231f20" stroke-width="0.9"/>
<text x="419.28" y="329.70" font-size="7.9" fill="#231f20" stroke="#231f20" text-anchor="middle" textLength="12.39" lengthAdjust="spacingAndGlyphs">-0.5</text>
<line x1="448.15" y1="316.50" x2="448.15" y2="319.50" stroke="#231f20" stroke-width="0.9"/>
<text x="448.45" y="329.70" font-size="7.9" fill="#231f20" stroke="#231f20" text-anchor="middle" textLength="4.00" lengthAdjust="spacingAndGlyphs">0</text>
<line x1="477.32" y1="316.50" x2="477.32" y2="319.50" stroke="#231f20" stroke-width="0.9"/>
<text x="477.62" y="329.70" font-size="7.9" fill="#231f20" stroke="#231f20" text-anchor="middle" textLength="9.99" lengthAdjust="spacingAndGlyphs">0.5</text>
<line x1="506.50" y1="316.50" x2="506.50" y2="319.50" stroke="#231f20" stroke-width="0.9"/>
<text x="506.80" y="329.70" font-size="7.9" fill="#231f20" stroke="#231f20" text-anchor="middle" textLength="9.99" lengthAdjust="spacingAndGlyphs">1.0</text>
<text x="379.65" y="343.50" font-size="8.2" fill="#231f20" stroke="#231f20" text-anchor="start" textLength="137.00" lengthAdjust="spacingAndGlyphs">mRNA fold change KO/WT (log 2)</text>
<text x="0" y="0" font-size="9.8" fill="#231f20" stroke="#231f20" text-anchor="middle" textLength="81" lengthAdjust="spacingAndGlyphs" transform="translate(361.80,270.30) rotate(-90)">Cumulative fraction</text>
<line x1="394.40" y1="232.50" x2="398.70" y2="232.50" stroke="#74b54a" stroke-width="1.1"/>
<text x="401.30" y="235.00" font-size="7.3" fill="#231f20" stroke="#231f20" text-anchor="start" textLength="29.10" lengthAdjust="spacingAndGlyphs">All genes</text>
<line x1="394.40" y1="241.00" x2="398.70" y2="241.00" stroke="#4f6a99" stroke-width="1.1"/>
<text x="401.30" y="243.30" font-size="7.3" fill="#231f20" stroke="#231f20" text-anchor="start" textLength="45.80" lengthAdjust="spacingAndGlyphs">6mer offset (5)</text>
<line x1="394.40" y1="249.30" x2="398.70" y2="249.30" stroke="#f0b43a" stroke-width="1.1"/>
<text x="401.30" y="251.80" font-size="7.3" fill="#231f20" stroke="#231f20" text-anchor="start" textLength="30.20" lengthAdjust="spacingAndGlyphs">6mer (29)</text>
<line x1="394.40" y1="257.40" x2="398.70" y2="257.40" stroke="#b6354f" stroke-width="1.1"/>
<text x="401.30" y="259.80" font-size="7.3" fill="#231f20" stroke="#231f20" text-anchor="start" textLength="31.40" lengthAdjust="spacingAndGlyphs">Canonical</text>
<text x="400.90" y="269.30" font-size="7.3" fill="#231f20" stroke="#231f20" text-anchor="start" textLength="11.80" lengthAdjust="spacingAndGlyphs">(77)</text>
<text x="413.60" y="268.30" font-size="7" fill="#231f20" stroke="#231f20" text-anchor="start">**</text>
<text x="78.80" y="348.10" font-size="6.9" fill="#6ea851" stroke="#6ea851" text-anchor="start" textLength="59.20" lengthAdjust="spacingAndGlyphs" style="stroke-width:0.06px">mRNA seed match</text>
<path d="M92.4 360.3 L92.4 358.2 Q92.4 356.5 94.2 356.5 L106.2 356.5 Q108 356.5 108 354.7 L108 352.8 M108 354.7 Q108 356.5 109.8 356.5 L121.8 356.5 Q123.6 356.5 123.6 358.2 L123.6 360.3" fill="none" stroke="#6ea851" stroke-width="1.1"/>
<text x="16.40" y="373.50" font-size="6.3" fill="#7d5a82" stroke="#7d5a82" text-anchor="start" textLength="31.70" lengthAdjust="spacingAndGlyphs" style="stroke-width:0.12px">6mer-offset</text>
<text x="33.70" y="387.20" font-size="6.3" fill="#7d5a82" stroke="#7d5a82" text-anchor="start" textLength="14.40" lengthAdjust="spacingAndGlyphs" style="stroke-width:0.12px">6mer</text>
<text x="24.70" y="400.80" font-size="6.3" fill="#7d5a82" stroke="#7d5a82" text-anchor="start" textLength="23.40" lengthAdjust="spacingAndGlyphs" style="stroke-width:0.12px">7mer-A1</text>
<text x="23.00" y="414.20" font-size="6.3" fill="#7d5a82" stroke="#7d5a82" text-anchor="start" textLength="25.10" lengthAdjust="spacingAndGlyphs" style="stroke-width:0.12px">7mer-m8</text>
<text x="33.70" y="427.80" font-size="6.3" fill="#7d5a82" stroke="#7d5a82" text-anchor="start" textLength="14.40" lengthAdjust="spacingAndGlyphs" style="stroke-width:0.12px">8mer</text>
<line x1="18.2" y1="395.3" x2="18.2" y2="432.0" stroke="#7d5a82" stroke-width="1.0"/>
<text x="0" y="0" font-size="7.9" fill="#7d5a82" stroke="#7d5a82" style="stroke-width:0.08px" text-anchor="middle" textLength="31.4" lengthAdjust="spacingAndGlyphs" transform="translate(13.8,413.4) rotate(-90)">Canonical</text>
<line x1="71.00" y1="371.80" x2="99.80" y2="371.80" stroke="#555" stroke-width="1.1" stroke-dasharray="0.95 0.95"/>
<text x="99.80" y="372.20" font-size="5.6" fill="#231f20" stroke="#231f20" text-anchor="start" textLength="4.30" lengthAdjust="spacingAndGlyphs">N</text>
<text x="104.30" y="372.20" font-size="5.6" fill="#6ea851" stroke="#6ea851" text-anchor="start" textLength="21.50" lengthAdjust="spacingAndGlyphs" style="stroke-width:0.06px">NNNNN</text>
<line x1="126.00" y1="371.80" x2="130.40" y2="371.80" stroke="#6ea851" stroke-width="1.1" stroke-dasharray="0.95 0.95"/>
<line x1="130.60" y1="371.80" x2="136.00" y2="371.80" stroke="#4f6a99" stroke-width="1.1" stroke-dasharray="0.95 0.95"/>
<line x1="136.20" y1="371.80" x2="146.60" y2="371.80" stroke="#555" stroke-width="1.1" stroke-dasharray="0.95 0.95"/>
<text x="147.00" y="372.20" font-size="5.6" fill="#231f20" stroke="#231f20" text-anchor="start" textLength="14.80" lengthAdjust="spacingAndGlyphs">AAAA</text>
<line x1="71.00" y1="385.40" x2="103.60" y2="385.40" stroke="#555" stroke-width="1.1" stroke-dasharray="0.95 0.95"/>
<text x="103.60" y="385.80" font-size="5.6" fill="#6ea851" stroke="#6ea851" text-anchor="start" textLength="26.20" lengthAdjust="spacingAndGlyphs" style="stroke-width:0.06px">NNNNNN</text>
<line x1="130.40" y1="385.40" x2="132.60" y2="385.40" stroke="#4f6a99" stroke-width="1.1" stroke-dasharray="0.95 0.95"/>
<line x1="132.80" y1="385.40" x2="145.60" y2="385.40" stroke="#555" stroke-width="1.1" stroke-dasharray="0.95 0.95"/>
<text x="146.20" y="385.80" font-size="5.6" fill="#231f20" stroke="#231f20" text-anchor="start" textLength="15.60" lengthAdjust="spacingAndGlyphs">AAAA</text>
<line x1="70.00" y1="398.70" x2="103.50" y2="398.70" stroke="#555" stroke-width="1.1" stroke-dasharray="0.95 0.95"/>
<text x="103.60" y="399.10" font-size="5.6" fill="#6ea851" stroke="#6ea851" text-anchor="start" textLength="26.10" lengthAdjust="spacingAndGlyphs" style="stroke-width:0.06px">NNNNNN</text>
<text x="129.70" y="399.10" font-size="5.6" fill="#4f6a99" stroke="#4f6a99" text-anchor="start" textLength="3.90" lengthAdjust="spacingAndGlyphs">A</text>
<line x1="134.00" y1="398.70" x2="146.40" y2="398.70" stroke="#555" stroke-width="1.1" stroke-dasharray="0.95 0.95"/>
<text x="146.80" y="399.10" font-size="5.6" fill="#231f20" stroke="#231f20" text-anchor="start" textLength="15.00" lengthAdjust="spacingAndGlyphs">AAAA</text>
<line x1="70.00" y1="412.20" x2="100.20" y2="412.20" stroke="#555" stroke-width="1.1" stroke-dasharray="0.95 0.95"/>
<text x="100.40" y="412.60" font-size="5.6" fill="#231f20" stroke="#231f20" text-anchor="start" textLength="4.00" lengthAdjust="spacingAndGlyphs">N</text>
<text x="104.40" y="412.60" font-size="5.6" fill="#6ea851" stroke="#6ea851" text-anchor="start" textLength="25.30" lengthAdjust="spacingAndGlyphs" style="stroke-width:0.06px">NNNNNN</text>
<line x1="130.00" y1="412.20" x2="135.00" y2="412.20" stroke="#4f6a99" stroke-width="1.1" stroke-dasharray="0.95 0.95"/>
<line x1="135.20" y1="412.20" x2="145.80" y2="412.20" stroke="#555" stroke-width="1.1" stroke-dasharray="0.95 0.95"/>
<text x="146.40" y="412.60" font-size="5.6" fill="#231f20" stroke="#231f20" text-anchor="start" textLength="14.80" lengthAdjust="spacingAndGlyphs">AAAA</text>
<line x1="70.00" y1="425.90" x2="99.80" y2="425.90" stroke="#555" stroke-width="1.1" stroke-dasharray="0.95 0.95"/>
<text x="100.00" y="426.30" font-size="5.6" fill="#231f20" stroke="#231f20" text-anchor="start" textLength="3.90" lengthAdjust="spacingAndGlyphs">N</text>
<text x="104.20" y="426.30" font-size="5.6" fill="#6ea851" stroke="#6ea851" text-anchor="start" textLength="25.80" lengthAdjust="spacingAndGlyphs" style="stroke-width:0.06px">NNNNNN</text>
<text x="130.10" y="426.30" font-size="5.6" fill="#4f6a99" stroke="#4f6a99" text-anchor="start" textLength="3.80" lengthAdjust="spacingAndGlyphs">A</text>
<line x1="134.30" y1="425.90" x2="145.80" y2="425.90" stroke="#555" stroke-width="1.1" stroke-dasharray="0.95 0.95"/>
<text x="146.40" y="426.30" font-size="5.6" fill="#231f20" stroke="#231f20" text-anchor="start" textLength="14.80" lengthAdjust="spacingAndGlyphs">AAAA</text>
<line x1="90.4" y1="430.7" x2="90.4" y2="438.8" stroke="#444" stroke-width="0.9"/>
<line x1="95.4" y1="430.7" x2="95.4" y2="438.8" stroke="#444" stroke-width="0.9"/>
<line x1="100.4" y1="430.7" x2="100.4" y2="438.8" stroke="#444" stroke-width="0.9"/>
<line x1="105.5" y1="430.7" x2="105.5" y2="438.8" stroke="#444" stroke-width="0.9"/>
<line x1="110.6" y1="430.7" x2="110.6" y2="438.8" stroke="#444" stroke-width="0.9"/>
<line x1="115.6" y1="430.7" x2="115.6" y2="438.8" stroke="#444" stroke-width="0.9"/>
<line x1="120.7" y1="430.7" x2="120.7" y2="438.8" stroke="#444" stroke-width="0.9"/>
<text x="32.00" y="446.20" font-size="6.0" fill="#231f20" stroke="#231f20" text-anchor="start" textLength="60.30" lengthAdjust="spacingAndGlyphs" style="stroke-width:0.14px">NNNNNNNNNNNNNN</text>
<text x="92.30" y="446.20" font-size="6.0" fill="#a8324c" stroke="#a8324c" text-anchor="start" textLength="26.00" lengthAdjust="spacingAndGlyphs" style="stroke-width:0.06px">NNNNNNN</text>
<text x="118.30" y="446.20" font-size="6.0" fill="#231f20" stroke="#231f20" text-anchor="start" textLength="10.10" lengthAdjust="spacingAndGlyphs" style="stroke-width:0.14px">N-5′</text>
<text x="132.40" y="446.20" font-size="6.0" fill="#7d5a82" stroke="#7d5a82" text-anchor="start" textLength="18.60" lengthAdjust="spacingAndGlyphs" style="stroke-width:0.06px">miRNA</text>
<path d="M93.1 451.6 L93.1 453.8 Q93.1 455.6 94.9 455.6 L106.1 455.6 Q107.9 455.6 107.9 457.4 L107.9 460 M107.9 457.4 Q107.9 455.6 109.7 455.6 L121.8 455.6 Q123.6 455.6 123.6 453.8 L123.6 451.6" fill="none" stroke="#a8324c" stroke-width="1.2"/>
<text x="88.70" y="469.70" font-size="7.1" fill="#a8324c" stroke="#a8324c" text-anchor="start" textLength="39.40" lengthAdjust="spacingAndGlyphs" style="stroke-width:0.06px">miRNA seed</text>
<rect x="0" y="0" width="520" height="1.4" fill="#444"/>
<rect x="0" y="477.7" width="520" height="1.3" fill="#111"/>
<rect x="0" y="0" width="1.3" height="479" fill="#111"/>
<rect x="518.4" y="0" width="1.6" height="479" fill="#444"/>
</svg>
</body></html>
